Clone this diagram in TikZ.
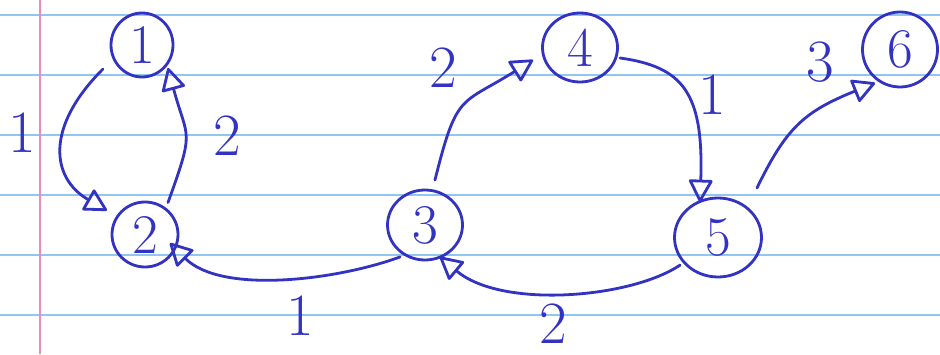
\documentclass[tikz,border=0pt]{standalone}
\usepackage{fontspec}
\usetikzlibrary{arrows.meta,shapes.geometric,calc}
\definecolor{ink}{RGB}{50,50,195}
\definecolor{ruleblue}{RGB}{145,198,240}
\definecolor{marginred}{RGB}{232,140,180}
\begin{document}
\begin{tikzpicture}[x=1pt,y=1pt,
  vertex/.style={draw=ink, line width=2.8pt, ellipse, inner sep=0pt, text=ink,
    font=\fontsize{56}{56}\selectfont},
  edge/.style={draw=ink, line width=2.8pt, line cap=round, line join=round,
    -{Triangle[open,length=24pt,width=25pt,round]}},
  wlabel/.style={text=ink, font=\fontsize{60}{60}\selectfont, inner sep=0pt}]
\useasboundingbox (0,0) rectangle (940,354);
\fill[white] (0,0) rectangle (940,354);
\foreach \yy in {39,99,159,219,279,339}
  \draw[ruleblue, line width=1.6pt] (0,\yy) -- (940,\yy);
\draw[marginred, line width=1.4pt] (40,0) -- (40,354);

\node[vertex, minimum width=62pt, minimum height=64pt] (n1) at (142,309) {1};
\node[vertex, minimum width=66pt, minimum height=65pt] (n2) at (145,119.5) {2};
\node[vertex, minimum width=75pt, minimum height=70pt] (n3) at (425,129) {3};
\node[vertex, minimum width=75pt, minimum height=69pt] (n4) at (580,306.5) {4};
\node[vertex, minimum width=87pt, minimum height=79pt] (n5) at (718,116.5) {5};
\node[vertex, minimum width=75pt, minimum height=75pt] (n6) at (900,304.5) {6};

\draw[edge] ($(n1)+(211.6:45.8)$) .. controls +(225:83) and +(150:64) .. ($(n2)+(147.7:45)$);
\draw[edge] ($(n2)+(54.3:39.4)$) .. controls +(70:80) and +(285:75) .. ($(n1)+(318.5:34.7)$);
\draw[edge] ($(n3)+(232:40.6)$) .. controls +(200:68.6) and +(315:72.4) .. ($(n2)+(341:26.4)$);
\draw[edge] ($(n5)+(216:46.9)$) .. controls +(214:59) and +(320:81.3) .. ($(n3)+(295:35.3)$);
\draw[edge] ($(n3)+(77.5:46)$) .. controls +(76:90.8) and +(212:85.7) .. ($(n4)+(194.9:48.6)$);
\draw[edge] ($(n4)+(345.3:41.4)$) .. controls +(352:63) and +(88:110) .. ($(n5)+(116.9:39.8)$);
\draw[edge] ($(n5)+(51.8:63)$) .. controls +(64:66.4) and +(202:77.4) .. ($(n6)+(233.3:41.8)$);

\node[wlabel] (l12) at (22,221) {1};
\node[wlabel] (l21) at (227,218) {2};
\node[wlabel] (l32) at (300,38) {1};
\node[wlabel] (l53) at (553,30) {2};
\node[wlabel] (l34) at (443,286) {2};
\node[wlabel] (l45) at (712,259) {1};
\node[wlabel] (l56) at (820,292) {3};
\end{tikzpicture}
\end{document}
